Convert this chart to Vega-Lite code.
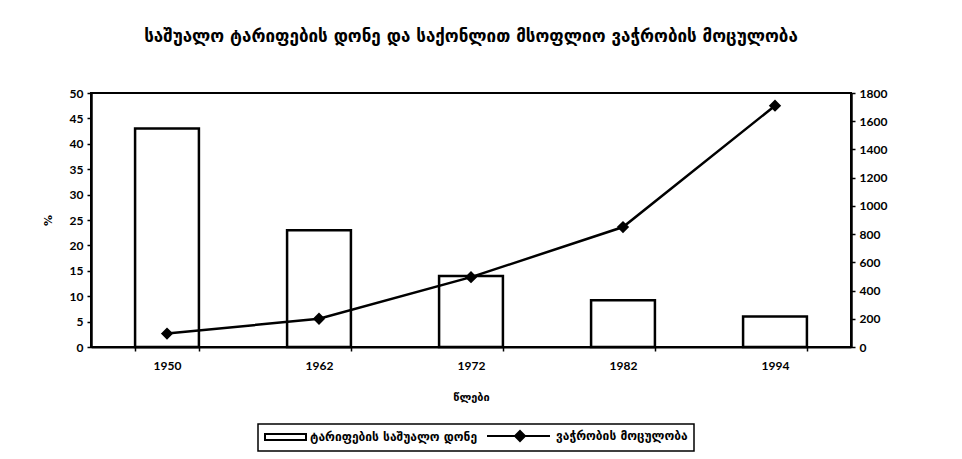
{
  "$schema": "https://vega.github.io/schema/vega-lite/v6.json",
  "autosize": {"type": "none"},
  "width": 760,
  "height": 254,
  "padding": {"left": 91, "top": 93, "right": 111, "bottom": 112},
  "background": "white",
  "title": {
    "text": "საშუალო ტარიფების დონე და საქონლით მსოფლიო ვაჭრობის მოცულობა",
    "font": "DejaVu Sans",
    "fontSize": 17,
    "fontWeight": "bold",
    "color": "black",
    "anchor": "middle",
    "offset": 41
  },
  "data": {
    "values": [
      {"year": "1950", "tariff": 43, "volume": 95},
      {"year": "1962", "tariff": 23, "volume": 200},
      {"year": "1972", "tariff": 14, "volume": 495},
      {"year": "1982", "tariff": 9.2, "volume": 850},
      {"year": "1994", "tariff": 6, "volume": 1710}
    ]
  },
  "encoding": {
    "x": {
      "field": "year",
      "type": "nominal",
      "sort": null,
      "scale": {"paddingInner": 0.58, "paddingOuter": 0.29},
      "axis": {
        "title": "წლები",
        "labelAngle": 0,
        "labelFont": "Lato",
        "labelFontSize": 12,
        "labelFontWeight": "bold",
        "labelColor": "black",
        "labelPadding": 9,
        "titleFont": "DejaVu Sans",
        "titleFontSize": 11,
        "titleFontWeight": "bold",
        "titleColor": "black",
        "titlePadding": 20,
        "domainColor": "black",
        "domainWidth": 2,
        "tickBand": "extent",
        "tickColor": "black",
        "tickSize": 4,
        "tickWidth": 1.5
      }
    }
  },
  "layer": [
    {
      "mark": {"type": "bar", "fill": "white", "strokeWidth": 2.5},
      "encoding": {
        "y": {
          "field": "tariff",
          "type": "quantitative",
          "scale": {"domain": [0, 50], "nice": false},
          "axis": {
            "title": "%",
            "values": [0, 5, 10, 15, 20, 25, 30, 35, 40, 45, 50],
            "grid": false,
            "labelFont": "Lato",
            "labelFontSize": 12,
            "labelFontWeight": "bold",
            "labelColor": "black",
            "labelPadding": 4,
            "titleFont": "DejaVu Sans",
            "titleFontSize": 11,
            "titleFontWeight": "bold",
            "titleColor": "black",
            "titlePadding": 16,
            "domainColor": "black",
            "domainWidth": 2.5,
            "tickColor": "black",
            "tickSize": 4,
            "tickWidth": 1.5
          }
        },
        "stroke": {
          "datum": "ტარიფების საშუალო დონე",
          "scale": {"domain": ["ტარიფების საშუალო დონე", "ვაჭრობის მოცულობა"], "range": ["black", "black"]},
          "legend": {
            "orient": "none",
            "legendX": 167,
            "legendY": 331,
            "direction": "horizontal",
            "title": null,
            "strokeColor": "black",
            "padding": 6,
            "labelFont": "DejaVu Sans",
            "labelFontSize": 12,
            "labelFontWeight": "bold",
            "labelColor": "black",
            "labelLimit": 0,
            "symbolSize": 100,
            "labelOffset": 34,
            "columnPadding": 5,
            "encode": {
              "legend": {"update": {"strokeWidth": {"value": 1.5}}},
              "symbols": {
                "update": {
                  "shape": [
                    {"test": "datum.value === 'ტარიფების საშუალო დონე'", "value": "M-1,-0.6H7.2V0.6H-1Z"},
                    {"value": "M-5.8,0H6.8M0.8,-1L1.8,0L0.8,1L-0.2,0Z"}
                  ],
                  "fill": [
                    {"test": "datum.value === 'ტარიფების საშუალო დონე'", "value": "white"},
                    {"value": "black"}
                  ],
                  "stroke": {"value": "black"},
                  "strokeWidth": {"value": 2}
                }
              }
            }
          }
        }
      }
    },
    {
      "mark": {
        "type": "line",
        "strokeWidth": 2.5,
        "point": {"shape": "diamond", "filled": true, "size": 90, "color": "black"}
      },
      "encoding": {
        "y": {
          "field": "volume",
          "type": "quantitative",
          "scale": {"domain": [0, 1800], "nice": false},
          "axis": {
            "title": null,
            "orient": "right",
            "format": "d",
            "values": [0, 200, 400, 600, 800, 1000, 1200, 1400, 1600, 1800],
            "grid": false,
            "labelFont": "Lato",
            "labelFontSize": 12,
            "labelFontWeight": "bold",
            "labelColor": "black",
            "labelPadding": 4,
            "domainColor": "black",
            "domainWidth": 2.5,
            "tickColor": "black",
            "tickSize": 4,
            "tickWidth": 1.5
          }
        },
        "stroke": {
          "datum": "ვაჭრობის მოცულობა",
          "legend": {
            "orient": "none",
            "legendX": 167,
            "legendY": 331,
            "direction": "horizontal",
            "title": null,
            "strokeColor": "black",
            "padding": 6,
            "labelFont": "DejaVu Sans",
            "labelFontSize": 12,
            "labelFontWeight": "bold",
            "labelColor": "black",
            "labelLimit": 0,
            "symbolSize": 100,
            "labelOffset": 34,
            "columnPadding": 5,
            "encode": {
              "legend": {"update": {"strokeWidth": {"value": 1.5}}},
              "symbols": {
                "update": {
                  "shape": [
                    {"test": "datum.value === 'ტარიფების საშუალო დონე'", "value": "M-1,-0.6H7.2V0.6H-1Z"},
                    {"value": "M-5.8,0H6.8M0.8,-1L1.8,0L0.8,1L-0.2,0Z"}
                  ],
                  "fill": [
                    {"test": "datum.value === 'ტარიფების საშუალო დონე'", "value": "white"},
                    {"value": "black"}
                  ],
                  "stroke": {"value": "black"},
                  "strokeWidth": {"value": 2}
                }
              }
            }
          }
        }
      }
    }
  ],
  "resolve": {"scale": {"y": "independent"}},
  "config": {
    "view": {"stroke": "black", "strokeWidth": 2}
  }
}
